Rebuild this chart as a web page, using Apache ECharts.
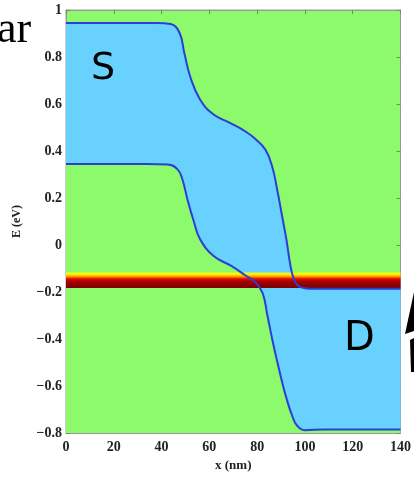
<!DOCTYPE html>
<html><head><meta charset="utf-8">
<script src="https://cdn.jsdelivr.net/npm/echarts@6/dist/echarts.min.js"></script>
<style>html,body{margin:0;padding:0;background:#fff}#c{width:414px;height:477px}</style>
</head><body><div id="c"></div>
<script>
// Upper band edge (nm, eV)
const upperX = [0, 38, 43.8, 47.5, 49.5, 52, 56.1, 61.8, 68.4, 75.3, 79.4, 83.5, 86.4, 88.4, 90.5, 92.3, 93.8, 95.2, 97, 99.5, 102, 140];
const upperY = [0.945, 0.945, 0.94, 0.903, 0.818, 0.716, 0.619, 0.555, 0.521, 0.482, 0.45, 0.405, 0.33, 0.235, 0.12, 0.02, -0.08, -0.14, -0.172, -0.183, -0.186, -0.186];
// Lower band edge
const lowerX = [0, 34, 42.6, 46.7, 48.7, 50.8, 53.6, 56.1, 61.8, 69.2, 75.3, 79.4, 82.3, 84.3, 86.4, 88.5, 90.5, 92.5, 94.6, 96.6, 99.9, 108, 140];
const lowerY = [0.345, 0.345, 0.343, 0.322, 0.28, 0.195, 0.097, 0.025, -0.047, -0.089, -0.131, -0.16, -0.205, -0.3, -0.405, -0.5, -0.585, -0.66, -0.725, -0.767, -0.788, -0.785, -0.785];
// Energy stripe (eV)
const stripeTop = -0.115;
const stripeBottom = -0.183;
// Axis ticks
const xTicks = [0, 20, 40, 60, 80, 100, 120, 140];
const yTicks = [-0.8, -0.6, -0.4, -0.2, 0, 0.2, 0.4, 0.6, 0.8, 1];
const yTickLabels = ['\u22120.8', '\u22120.6', '\u22120.4', '\u22120.2', '0', '0.2', '0.4', '0.6', '0.8', '1'];

const pairs = (xs, ys) => xs.map((x, i) => [x, ys[i]]);
const upper = pairs(upperX, upperY);
const lower = pairs(lowerX, lowerY);

const GREEN = '#8dfa6b';
const BLUE = '#68d1fd';
const LINE = '#2b3fd8';
const serif = 'Liberation Serif';
const SMOOTH = 0.45;

function yLabel(v) {
  let best = 0, bd = 1e9;
  yTicks.forEach((t, i) => { const d = Math.abs(t - v); if (d < bd) { bd = d; best = i; } });
  return yTickLabels[best];
}

const chart = echarts.init(document.getElementById('c'), null, {renderer: 'canvas'});
const axisCommon = {
  axisLine: {show: true, onZero: false, lineStyle: {color: '#9a9a9a', width: 1}},
  axisTick: {show: true, inside: true, length: 4, lineStyle: {color: '#6f8f60', width: 1}},
  splitLine: {show: false}
};
chart.setOption({
  animation: false,
  grid: {left: 66, right: 6, top: 10, bottom: 42, show: true, backgroundColor: GREEN, borderColor: '#9a9a9a', borderWidth: 1},
  xAxis: [
    Object.assign({type: 'value', min: xTicks[0], max: xTicks[xTicks.length - 1], interval: 20,
      name: 'x (nm)', nameLocation: 'middle', nameGap: 26,
      nameTextStyle: {fontFamily: serif, fontWeight: 'bold', fontSize: 13, color: '#222'},
      axisLabel: {fontFamily: serif, fontWeight: 'bold', fontSize: 14, color: '#222', margin: 7}}, axisCommon),
    Object.assign({type: 'value', position: 'top', min: xTicks[0], max: xTicks[xTicks.length - 1], interval: 20,
      axisLabel: {show: false}}, axisCommon)
  ],
  yAxis: [
    Object.assign({type: 'value', min: yTicks[0], max: yTicks[yTicks.length - 1], interval: 0.2,
      name: 'E (eV)', nameLocation: 'middle', nameGap: 43, nameRotate: 90,
      nameTextStyle: {fontFamily: serif, fontWeight: 'bold', fontSize: 12, color: '#222'},
      axisLabel: {fontFamily: serif, fontWeight: 'bold', fontSize: 14, color: '#222', margin: 4, formatter: yLabel}}, axisCommon),
    Object.assign({type: 'value', position: 'right', min: yTicks[0], max: yTicks[yTicks.length - 1], interval: 0.2,
      axisLabel: {show: false}}, axisCommon)
  ],
  series: [
    {type: 'line', data: upper, z: 1, showSymbol: false, smooth: SMOOTH,
      lineStyle: {width: 0}, areaStyle: {color: BLUE, opacity: 1, origin: 'start'}, silent: true},
    {type: 'line', data: lower, z: 2, showSymbol: false, smooth: SMOOTH,
      lineStyle: {width: 0}, areaStyle: {color: GREEN, opacity: 1, origin: 'start'}, silent: true},
    {type: 'line', data: [], z: 3,
      markArea: {silent: true, z: 3, itemStyle: {color: {type: 'linear', x: 0, y: 0, x2: 0, y2: 1, colorStops: [
        {offset: 0, color: 'rgba(255,255,0,0.3)'},
        {offset: 0.12, color: '#ffff00'},
        {offset: 0.28, color: '#ff9a00'},
        {offset: 0.42, color: '#e51000'},
        {offset: 0.58, color: '#a80000'},
        {offset: 1, color: '#7a0000'}]}},
        data: [[{xAxis: xTicks[0], yAxis: stripeTop}, {xAxis: xTicks[xTicks.length - 1], yAxis: stripeBottom}]]}},
    {type: 'line', data: upper, z: 4, showSymbol: false, smooth: SMOOTH,
      lineStyle: {width: 2, color: LINE}},
    {type: 'line', data: lower, z: 4, showSymbol: false, smooth: SMOOTH,
      lineStyle: {width: 2, color: LINE}}
  ],
  graphic: [
    {type: 'text', left: 91, top: 50, z: 10, style: {text: 'S', font: '38px "DejaVu Sans"', fill: '#000'}},
    {type: 'text', left: 344, top: 320, z: 10, style: {text: 'D', font: '40px "DejaVu Sans"', fill: '#000'}},
    {type: 'text', left: -3, top: 8, z: 10, style: {text: 'ar', font: '44px "Liberation Serif"', fill: '#000'}},
    {type: 'polygon', z: 10, shape: {points: [[414, 292], [405, 334], [414, 331]]}, style: {fill: '#000'}},
    {type: 'polygon', z: 10, shape: {points: [[410, 340], [414, 338], [414, 372], [411, 372]]}, style: {fill: '#000'}}
  ]
});
</script></body></html>
